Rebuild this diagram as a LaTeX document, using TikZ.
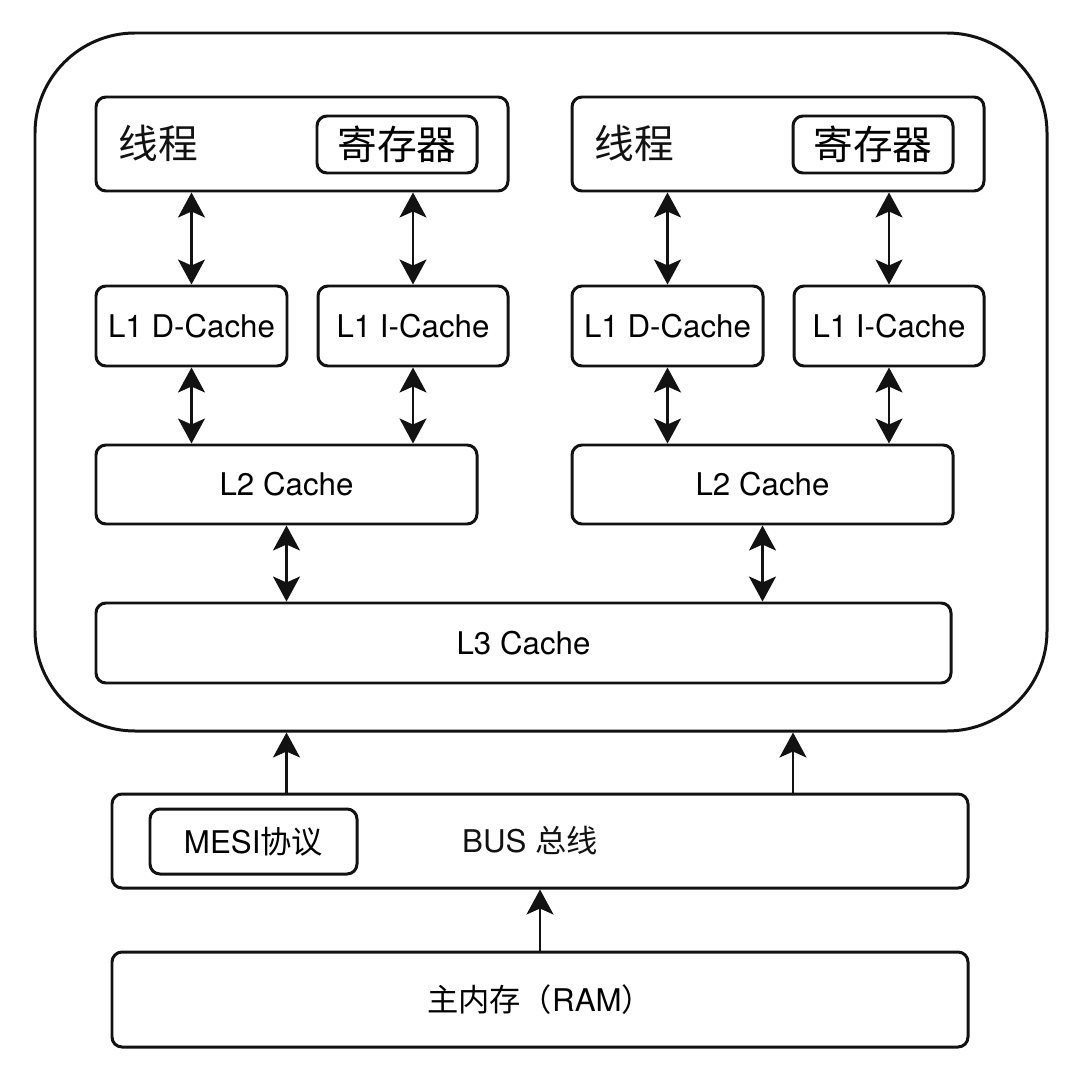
\documentclass[tikz,border=0pt]{standalone}
\usepackage{fontspec}
\setmainfont{TeX Gyre Heros}
\newfontfamily\cjk{Noto Sans CJK SC}
\usetikzlibrary{arrows.meta, calc}
\definecolor{DG}{RGB}{18,18,18}
\tikzset{
  blk/.style={draw=DG, line width=0.85pt, rounded corners=1mm, inner sep=0pt,
    font=\fontsize{8.9}{10}\selectfont},
  bigcn/.style={font=\cjk\fontsize{11.3}{12}\selectfont, text=DG, inner sep=0pt},
  dbl/.style={DG, line width=0.6pt,
    {Stealth[length=2.5mm,width=2.7mm,inset=0.6mm]}-{Stealth[length=2.5mm,width=2.7mm,inset=0.6mm]}},
  upa/.style={DG, line width=0.6pt, -{Stealth[length=2.5mm,width=2.7mm,inset=0.6mm]}},
}

\begin{document}
\begin{tikzpicture}
\fill[white] (0,0) rectangle (10.8,-10.8);

% CPU outer frame
\node[draw=DG, line width=0.85pt, rounded corners=1cm, inner sep=0pt,
  minimum width=10.12cm, minimum height=6.98cm] (cpu) at (5.41,-3.82) {};

% left core
\node[blk, minimum width=4.12cm, minimum height=0.94cm] (thA) at (3.02,-1.44) {};
\node[bigcn] (thAlbl) at (1.585,-1.43) {线程};
\node[blk, minimum width=1.60cm, minimum height=0.57cm, font=\cjk\fontsize{11.3}{12}\selectfont]
  (regA) at (3.97,-1.445) {寄存器};
\node[blk, minimum width=1.91cm, minimum height=0.80cm] (l1dA) at (1.915,-3.26) {L1 D-Cache};
\node[blk, minimum width=1.90cm, minimum height=0.80cm] (l1iA) at (4.13,-3.26) {L1 I-Cache};
\node[blk, minimum width=3.81cm, minimum height=0.79cm] (l2A) at (2.865,-4.845) {L2 Cache};

% right core
\node[blk, minimum width=4.12cm, minimum height=0.94cm] (thB) at (7.78,-1.44) {};
\node[bigcn] (thBlbl) at (6.345,-1.43) {线程};
\node[blk, minimum width=1.60cm, minimum height=0.57cm, font=\cjk\fontsize{11.3}{12}\selectfont]
  (regB) at (8.73,-1.445) {寄存器};
\node[blk, minimum width=1.91cm, minimum height=0.80cm] (l1dB) at (6.675,-3.26) {L1 D-Cache};
\node[blk, minimum width=1.90cm, minimum height=0.80cm] (l1iB) at (8.89,-3.26) {L1 I-Cache};
\node[blk, minimum width=3.81cm, minimum height=0.79cm] (l2B) at (7.625,-4.845) {L2 Cache};

% shared L3
\node[blk, minimum width=8.55cm, minimum height=0.80cm] (l3) at (5.235,-6.43) {L3 Cache};

% bus and memory
\node[blk, minimum width=8.56cm, minimum height=0.94cm] (bus) at (5.40,-8.41) {};
\node[blk, minimum width=2.07cm, minimum height=0.65cm] (mesi) at (2.535,-8.415) {MESI{\cjk 协议}};
\node[font=\fontsize{8.9}{10}\selectfont, text=DG, inner sep=0pt] (buslbl) at (5.30,-8.41) {BUS {\cjk 总线}};
\node[blk, minimum width=8.56cm, minimum height=0.95cm] (ram) at (5.40,-9.995) {{\cjk 主内存（}RAM{\cjk ）}};

% links inside the cores
\foreach \c in {A,B}{
  \draw[dbl] (th\c.south -| l1d\c) -- (l1d\c.north);
  \draw[dbl] (th\c.south -| l1i\c) -- (l1i\c.north);
  \draw[dbl] (l1d\c.south) -- (l1d\c |- l2\c.north);
  \draw[dbl] (l1i\c.south) -- (l1i\c |- l2\c.north);
  \draw[dbl] (l2\c.south) -- (l2\c |- l3.north);
}

% bus up to cpu, memory up to bus
\coordinate (busR) at (7.93,-7.94);
\draw[upa] (bus.north -| l2A) -- (l2A |- cpu.south);
\draw[upa] (busR) -- (busR |- cpu.south);
\draw[upa] (ram.north) -- (bus.south -| ram);
\end{tikzpicture}
\end{document}
